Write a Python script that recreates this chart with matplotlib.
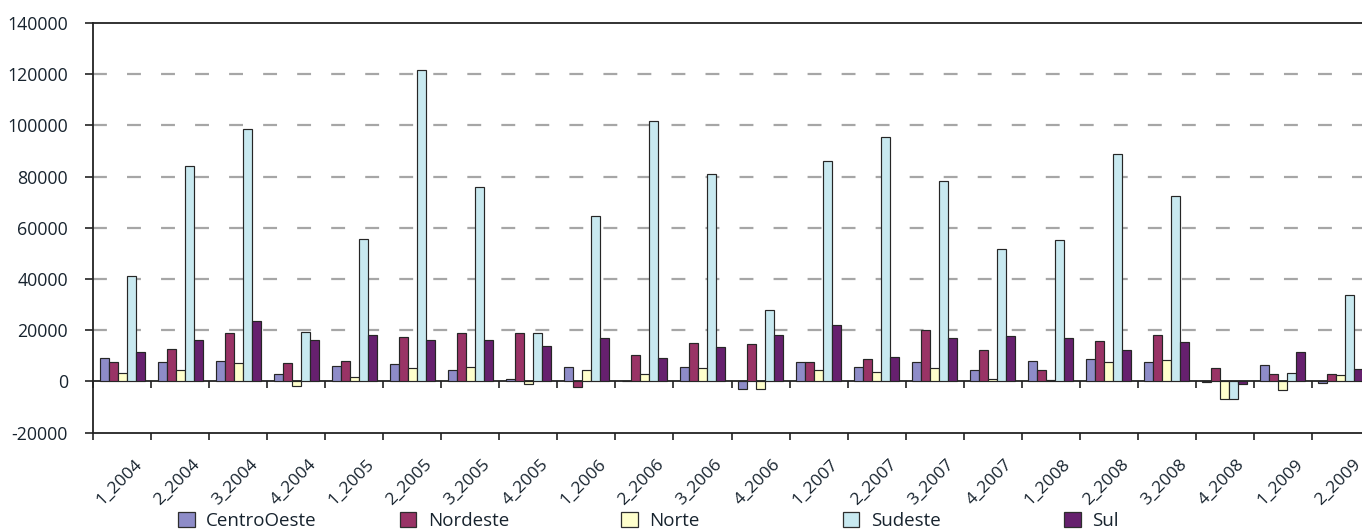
import matplotlib
matplotlib.use("Agg")
import matplotlib.pyplot as plt
from matplotlib.patches import Patch
from matplotlib.transforms import ScaledTranslation
import numpy as np

plt.rcParams['font.family'] = ['Open Sans', 'DejaVu Sans']
plt.rcParams['lines.scale_dashes'] = False

# Quarterly periods
periods = ["1_2004", "2_2004", "3_2004", "4_2004",
           "1_2005", "2_2005", "3_2005", "4_2005",
           "1_2006", "2_2006", "3_2006", "4_2006",
           "1_2007", "2_2007", "3_2007", "4_2007",
           "1_2008", "2_2008", "3_2008", "4_2008",
           "1_2009", "2_2009"]

# Values per region
centro_oeste = [9300, 7600, 8000, 3000, 6100, 6700, 4600, 800, 5800, 200, 5800, -3000,
                7400, 5800, 7700, 4400, 8000, 8600, 7600, -300, 6400, -800]
nordeste = [7700, 12700, 19100, 7300, 7800, 17200, 19100, 18800, -2300, 10500, 14900, 14800,
            7700, 8800, 20000, 12200, 4400, 15900, 18300, 5200, 2800, 2900]
norte = [3400, 4300, 7300, -1700, 1700, 5400, 5600, -900, 4400, 3000, 5400, -3000,
         4600, 3800, 5200, 1000, 600, 7600, 8500, -6900, -3300, 2400]
sudeste = [41000, 84000, 98700, 19200, 55600, 121800, 76000, 19000, 64700, 101700, 81100, 27800,
           86000, 95300, 78200, 51800, 55100, 88800, 72300, -6900, 3400, 33900]
sul = [11600, 16000, 23500, 16300, 18300, 16100, 16300, 13700, 16900, 9000, 13600, 18300,
       22200, 9700, 17100, 17600, 16900, 12400, 15200, -1200, 11500, 4800]

series_names = ["CentroOeste", "Nordeste", "Norte", "Sudeste", "Sul"]
series_values = [centro_oeste, nordeste, norte, sudeste, sul]
colors = ["#8E8CC8", "#993366", "#FFFFCC", "#C8E9F0", "#66206E"]

y_ticks = [-20000, 0, 20000, 40000, 60000, 80000, 100000, 120000, 140000]

text_color = "#17232e"
W, H = 1362, 531
fig = plt.figure(figsize=(W / 100, H / 100), dpi=100)

left_px, right_px, top_px, bottom_px = 93, 1370, 23, 432.6
ax = fig.add_axes([left_px / W, 1 - bottom_px / H,
                   (right_px - left_px) / W, (bottom_px - top_px) / H])

n = len(periods)
x = np.arange(n)
bar_w = 0.155
for k, (vals, col) in enumerate(zip(series_values, colors)):
    ax.bar(x + (k - 2) * bar_w, vals, width=bar_w, color=col,
           edgecolor="#262626", linewidth=0.85, zorder=3)

ax.set_xlim(-0.5, n - 0.5)
ax.set_ylim(y_ticks[0], y_ticks[-1])

# dashed horizontal gridlines
ax.set_yticks(y_ticks)
ax.set_yticklabels([str(v) for v in y_ticks])
for v in y_ticks[2:-1]:
    ax.axhline(v, color="#a6a6a6", linewidth=1.6, linestyle=(0, (10, 14.5)), zorder=1)

# category boundary ticks on the bottom, labels centred under groups
ax.set_xticks(np.arange(n + 1) - 0.5)
ax.set_xticklabels([])
ax.set_xticks(x, minor=True)
ax.set_xticklabels(periods, minor=True, rotation=45, ha="center", va="top",
                   fontsize=12.5, color=text_color)
ax.tick_params(axis="x", which="major", length=5, width=1.2, direction="out", color="#222222")
ax.tick_params(axis="x", which="minor", length=0, pad=12)
shift = ScaledTranslation(-3 / 100, -7 / 100, fig.dpi_scale_trans)
for lbl in ax.get_xticklabels(minor=True):
    lbl.set_transform(lbl.get_transform() + shift)
ax.tick_params(axis="y", length=6, width=1.2, direction="out", pad=12,
               labelsize=12.8, labelcolor=text_color, color="#222222")

for side in ("left", "bottom", "top"):
    ax.spines[side].set_color("#222222")
    ax.spines[side].set_linewidth(1.3)
ax.spines["right"].set_visible(False)

# category axis crossing at zero, with its own boundary ticks
sec = ax.secondary_xaxis(-y_ticks[0] / (y_ticks[-1] - y_ticks[0]))
sec.set_xticks(np.arange(n + 1) - 0.5)
sec.set_xticklabels([])
sec.tick_params(length=5, width=1.2, direction="out", color="#222222")
sec.spines["bottom"].set_color("#222222")
sec.spines["bottom"].set_linewidth(1.3)
sec.spines["bottom"].set_zorder(4)

# legend entries spread evenly along the bottom
legend_x0, legend_dx = 178 / W, 221.5 / W
for k, (name, col) in enumerate(zip(series_names, colors)):
    handle = Patch(facecolor=col, edgecolor="#2e2e2e", linewidth=0.9)
    fig.legend([handle], [name], loc="center left",
               bbox_to_anchor=(legend_x0 + k * legend_dx, 1 - 521 / H),
               frameon=False, fontsize=13.5, handlelength=0.9, handleheight=0.9,
               handletextpad=0.6, borderpad=0, borderaxespad=0,
               labelcolor=text_color)

fig.savefig("out.png", dpi=100)
